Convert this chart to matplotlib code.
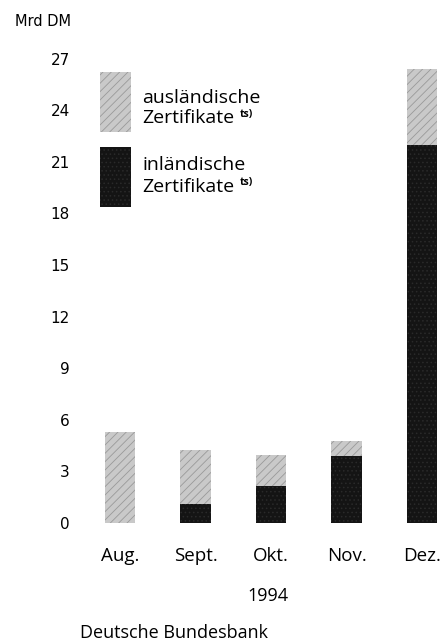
import numpy as np
import matplotlib.pyplot as plt
from matplotlib.patches import Rectangle

# Daten (Mrd DM)
monate = ['Aug.', 'Sept.', 'Okt.', 'Nov.', 'Dez.']
inlaendisch = [0.0, 1.1, 2.15, 3.9, 22.0]
auslaendisch = [5.3, 3.15, 1.8, 0.85, 4.4]
y_ticks = [0, 3, 6, 9, 12, 15, 18, 21, 24, 27]

W, H = 442, 641
plt.rcParams['font.family'] = ['Open Sans', 'DejaVu Sans']
plt.rcParams['hatch.linewidth'] = 0.6
schmal = ['Liberation Sans Narrow', 'DejaVu Sans']

fig = plt.figure(figsize=(W / 100, H / 100), dpi=100)

# Achse in Pixeln: links 85, rechts 442, unten 523, oben 50
ax = fig.add_axes([85 / W, 1 - 523 / H, (442 - 85) / W, (523 - 50) / H])

hell = '#c9c9c9'
dunkel = '#141414'
x = np.arange(len(monate))
ax.bar(x, inlaendisch, width=0.4, color=dunkel, edgecolor='#2a2a2a',
       linewidth=0, hatch='....')
ax.bar(x, auslaendisch, bottom=inlaendisch, width=0.4, color=hell,
       edgecolor='#9a9a9a', linewidth=0, hatch='////')

ax.set_xlim(-(120 - 85) / 75.5, (442 - 120) / 75.5)
ax.set_ylim(0, (523 - 50) / 17.2)
ax.set_yticks(y_ticks)
ax.set_yticklabels([str(t) for t in y_ticks], fontsize=11, family=schmal)
ax.set_xticks(x)
ax.set_xticklabels(monate, fontsize=13.5)
ax.tick_params(axis='y', length=0, pad=11)
ax.tick_params(axis='x', length=0, pad=17)
for s in ax.spines.values():
    s.set_visible(False)

# Legende
def patch(px, py, pw, ph, fc, ec, hatch):
    fig.patches.append(Rectangle((px / W, 1 - (py + ph) / H), pw / W, ph / H,
                                 transform=fig.transFigure, facecolor=fc,
                                 edgecolor=ec, linewidth=0, hatch=hatch))

patch(100, 72, 31, 60, hell, '#9a9a9a', '////')
patch(100, 147, 31, 60, dunkel, '#2a2a2a', '....')

fs = 14
renderer = fig.canvas.get_renderer()

def eintrag(zeile1, y1, y2):
    fig.text(142 / W, 1 - y1 / H, zeile1, fontsize=fs, va='center')
    t = fig.text(142 / W, 1 - y2 / H, 'Zertifikate', fontsize=fs, va='center')
    x_end = t.get_window_extent(renderer).x1
    fig.text((x_end + 6) / W, 1 - (y2 - 4) / H, 'ts)', fontsize=7.5,
             va='center', weight='bold')

eintrag('ausländische', 98, 118)
eintrag('inländische', 165, 187)

fig.text(15 / W, 1 - 21 / H, 'Mrd DM', fontsize=10.5, va='center',
         family=schmal)
fig.text(268 / W, 1 - 596 / H, '1994', fontsize=13, ha='center', va='center')
fig.text(80 / W, 1 - 633 / H, 'Deutsche Bundesbank', fontsize=13,
         va='center')

fig.savefig('out.png', dpi=100, facecolor='white')
